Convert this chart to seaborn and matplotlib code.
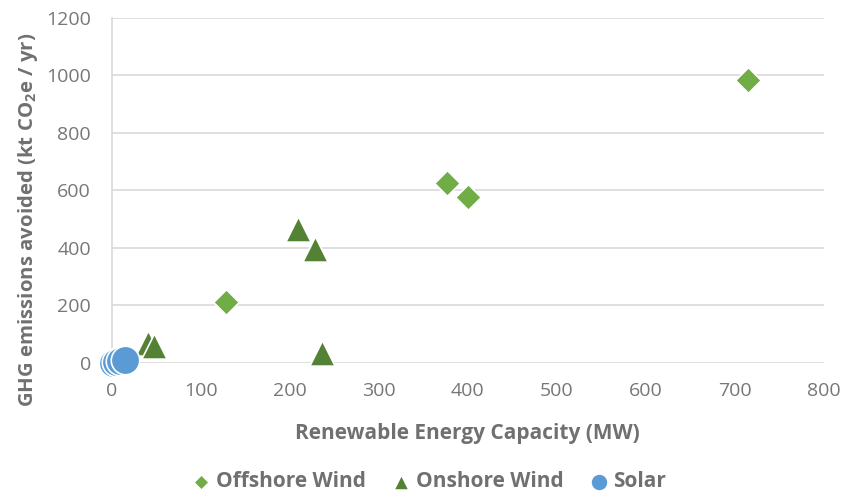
import matplotlib
matplotlib.use("Agg")
import matplotlib.pyplot as plt
import seaborn as sns
import pandas as pd

offshore_x = [128, 377, 400, 715]
offshore_y = [210, 625, 578, 982]
onshore_x = [209, 228, 236, 41, 47]
onshore_y = [465, 395, 35, 68, 60]
solar_x = [1, 5, 9, 15]
solar_y = [1, 3, 6, 10]
categories = ["Offshore Wind", "Onshore Wind", "Solar"]
x_ticks = [0, 100, 200, 300, 400, 500, 600, 700, 800]
y_ticks = [0, 200, 400, 600, 800, 1000, 1200]

df = pd.DataFrame({
    "x": offshore_x + onshore_x + solar_x,
    "y": offshore_y + onshore_y + solar_y,
    "type": [categories[0]] * len(offshore_x) + [categories[1]] * len(onshore_x) + [categories[2]] * len(solar_x),
})

sns.set_theme(style="white")
plt.rcParams["font.family"] = ["Open Sans", "DejaVu Sans"]

fig = plt.figure(figsize=(8.59, 4.93), dpi=100)
ax = fig.add_axes([0.130, 0.264, 0.829, 0.700])

palette = {"Offshore Wind": "#70AD47", "Onshore Wind": "#548235", "Solar": "#5B9BD5"}
markers = {"Offshore Wind": "D", "Onshore Wind": "^", "Solar": "o"}
sizes = {"Offshore Wind": 170, "Onshore Wind": 330, "Solar": 420}

for cat in categories:
    sub = df[df["type"] == cat]
    sns.scatterplot(data=sub, x="x", y="y", color=palette[cat], marker=markers[cat],
                    s=sizes[cat], edgecolor="white", linewidth=1.2, ax=ax, label=cat,
                    zorder=3, clip_on=False)

ax.set_xlim(0, 800)
ax.set_ylim(0, 1200)
ax.set_xticks(x_ticks)
ax.set_yticks(y_ticks)
ax.tick_params(axis="both", labelsize=14, colors="#777777", length=0)
ax.tick_params(axis="y", pad=15)
ax.tick_params(axis="x", pad=14)
ax.yaxis.grid(True, color="#D9D9D9", linewidth=1.2)
ax.xaxis.grid(False)
ax.set_axisbelow(True)
for s in ["top", "right", "bottom"]:
    ax.spines[s].set_visible(False)
ax.spines["left"].set_color("#D9D9D9")
ax.spines["left"].set_linewidth(1.2)

ax.set_xlabel("Renewable Energy Capacity (MW)", fontsize=15, fontweight="bold", color="#707070")
ax.xaxis.set_label_coords(0.5, -0.175)
ax.set_ylabel("GHG emissions avoided (kt CO$_\\mathregular{2}$e / yr)", fontsize=14.7, fontweight="bold",
              color="#707070")
ax.yaxis.set_label_coords(-0.101, 0.415)

leg = ax.legend(loc="center", bbox_to_anchor=(0.445, -0.345), ncol=3, frameon=False,
                fontsize=15, handletextpad=0.2, handlelength=1.0, columnspacing=1.2, markerscale=0.6)
for t in leg.get_texts():
    t.set_color("#707070")
    t.set_fontweight("bold")

fig.savefig("out.png", dpi=100, facecolor="white")
